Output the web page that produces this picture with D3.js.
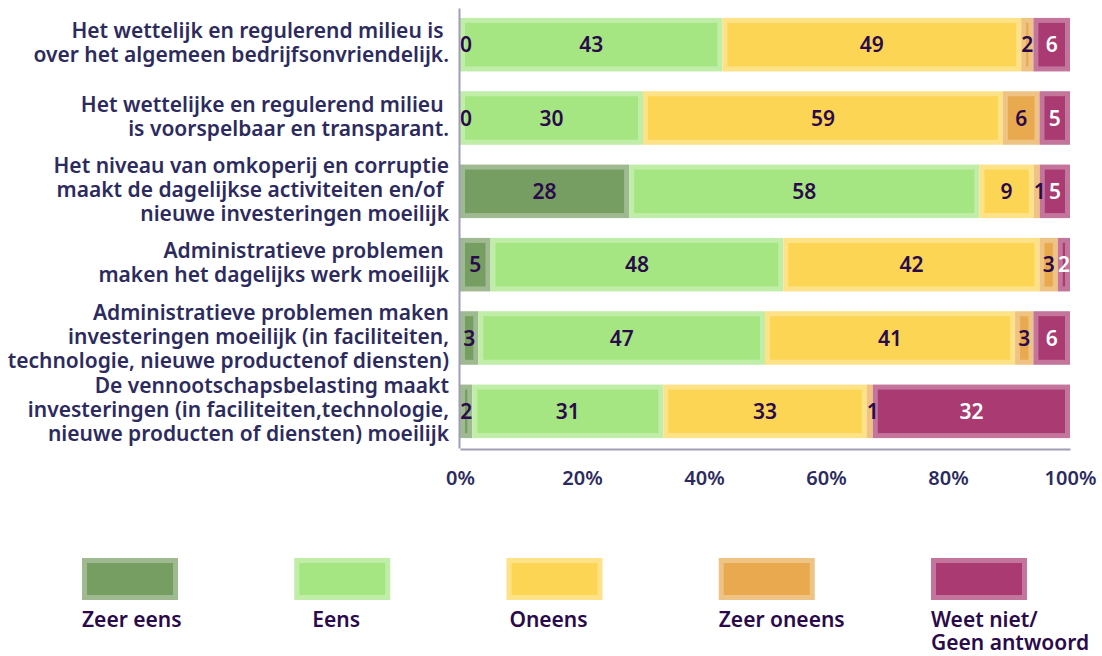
<!DOCTYPE html>
<html>
<head>
<meta charset="utf-8">
<script src="https://cdn.jsdelivr.net/npm/d3@7"></script>
<style>
  body { margin: 0; background: #fff; }
  text { font-family: "Noto Sans", "Open Sans", sans-serif; font-weight: 600; white-space: pre; }
</style>
</head>
<body>
<svg id="chart" width="1102" height="656"></svg>
<script>
var width = 1102, height = 656

// statements, one entry per bar (lines as shown)
var statements = [
  ["Het wettelijk en regulerend milieu is ", "over het algemeen bedrijfsonvriendelijk."],
  ["Het wettelijke en regulerend milieu ", "is voorspelbaar en transparant."],
  ["Het niveau van omkoperij en corruptie", "maakt de dagelijkse activiteiten en/of ", "nieuwe investeringen moeilijk"],
  ["Administratieve problemen ", "maken het dagelijks werk moeilijk"],
  ["Administratieve problemen maken", "investeringen moeilijk (in faciliteiten,", "technologie, nieuwe productenof diensten)"],
  ["De vennootschapsbelasting maakt", "investeringen (in faciliteiten,technologie,", "nieuwe producten of diensten) moeilijk"]
]

var seriesKeys = ["zeerEens", "eens", "oneens", "zeerOneens", "weetNiet"]
var seriesNames = [["Zeer eens"], ["Eens"], ["Oneens"], ["Zeer oneens"], ["Weet niet/", "Geen antwoord"]]

var zeerEens   = [0, 0, 28, 5, 3, 2]
var eens       = [43, 30, 58, 48, 47, 31]
var oneens     = [49, 59, 9, 42, 41, 33]
var zeerOneens = [2, 6, 1, 3, 3, 1]
var weetNiet   = [6, 5, 5, 2, 6, 32]

var tickValues = [0, 0.2, 0.4, 0.6, 0.8, 1]

var colors = ["#769d62", "#a5e682", "#fdd555", "#e8a94f", "#a93a72"]
var labelColors = ["#2a0a4a", "#2a0a4a", "#2a0a4a", "#2a0a4a", "#ffffff"]
var axisText = "#2d2b5e"

var values = {zeerEens: zeerEens, eens: eens, oneens: oneens, zeerOneens: zeerOneens, weetNiet: weetNiet}
var rows = statements.map((s, i) => {
  var r = {id: i}
  seriesKeys.forEach(k => r[k] = values[k][i])
  return r
})

var color = d3.scaleOrdinal().domain(seriesKeys).range(colors)
var lightColor = k => d3.interpolateRgb(color(k), "#fff")(0.3)

var stack = d3.stack().keys(seriesKeys).offset(d3.stackOffsetExpand)
var series = stack(rows)
var segments = []
series.forEach(s => s.forEach(d => segments.push({key: s.key, d: d})))

var x = d3.scaleLinear().domain([0, 1]).range([460, 1070])
var y = d3.scaleBand().domain(rows.map(d => d.id)).range([8, 448])
  .paddingInner(0.27).paddingOuter(0.135)

var svg = d3.select('#chart')

// bars
var bars = svg.append('g').attr('class', 'bars')

bars.selectAll('rect.outer')
  .data(segments)
  .enter().append('rect')
  .attr('class', 'outer')
  .attr('x', e => x(e.d[0]))
  .attr('y', e => y(e.d.data.id))
  .attr('width', e => x(e.d[1]) - x(e.d[0]))
  .attr('height', y.bandwidth())
  .attr('fill', e => lightColor(e.key))

bars.selectAll('rect.inner')
  .data(segments)
  .enter().append('rect')
  .attr('class', 'inner')
  .attr('x', e => x(e.d[0]) + 5)
  .attr('y', e => y(e.d.data.id) + 5)
  .attr('width', e => Math.max(0, x(e.d[1]) - x(e.d[0]) - 10))
  .attr('height', y.bandwidth() - 10)
  .attr('fill', e => color(e.key))

// value labels, on top of all bars
svg.append('g').attr('class', 'labels')
  .selectAll('text')
  .data(segments)
  .enter().append('text')
  .attr('x', e => Math.max((x(e.d[0]) + x(e.d[1])) / 2, x(e.d[0]) + 6))
  .attr('y', e => y(e.d.data.id) + y.bandwidth() / 2)
  .attr('dy', '0.36em')
  .attr('text-anchor', 'middle')
  .style('font-size', '21px')
  .attr('fill', e => labelColors[seriesKeys.indexOf(e.key)])
  .text(e => String(e.d.data[e.key]))

// axes
var xAxis = svg.append('g')
  .attr('transform', 'translate(0,449)')
  .call(d3.axisBottom(x).tickValues(tickValues).tickFormat(d3.format('.0%')).tickSize(0).tickPadding(22))
xAxis.select('.domain').attr('stroke', '#a09db8').attr('stroke-width', 2)
xAxis.selectAll('text').style('font-size', '20px').attr('font-family', null).attr('fill', axisText)

var yAxis = svg.append('g')
  .attr('transform', 'translate(459,0)')
  .call(d3.axisLeft(y).tickSize(0).tickFormat(''))
yAxis.select('.domain').attr('stroke', '#a09db8').attr('stroke-width', 2)

// statement labels
svg.append('g').selectAll('text')
  .data(rows)
  .enter().append('text')
  .attr('text-anchor', 'end')
  .style('font-size', '21px')
  .attr('fill', axisText)
  .each(function(d) {
    var lines = statements[d.id]
    var cy = y(d.id) + y.bandwidth() / 2
    var top = cy - (lines.length - 1) * 12 - 2
    d3.select(this).selectAll('tspan')
      .data(lines)
      .enter().append('tspan')
      .attr('x', 449)
      .attr('y', (l, i) => top + i * 24)
      .attr('dy', '0.36em')
      .text(l => l)
  })

// legend
var lx = d3.scalePoint().domain(seriesKeys).range([82, 931])
var legend = svg.append('g').selectAll('g')
  .data(seriesKeys)
  .enter().append('g')
  .attr('transform', k => 'translate(' + lx(k) + ',558)')

legend.append('rect')
  .attr('width', 96).attr('height', 42)
  .attr('fill', k => lightColor(k))
legend.append('rect')
  .attr('x', 5).attr('y', 5)
  .attr('width', 86).attr('height', 32)
  .attr('fill', k => color(k))

legend.append('text')
  .style('font-size', '21px')
  .attr('fill', '#2a0a4a')
  .each(function(k, i) {
    var lines = seriesNames[i]
    var t = d3.select(this)
    t.selectAll('tspan')
      .data(lines)
      .enter().append('tspan')
      .attr('x', 0)
      .attr('y', (l, j) => 69 + j * 23)
      .text(l => l)
    // short names sit roughly under the swatch, long ones start at its left edge
    if (this.getBBox().width < 96) {
      t.attr('text-anchor', 'middle').selectAll('tspan').attr('x', 42)
    }
  })
</script>
</body>
</html>
